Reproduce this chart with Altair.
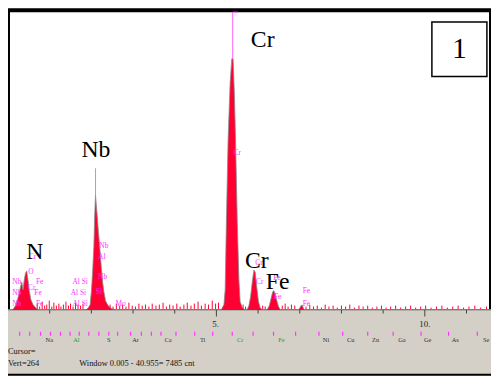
import altair as alt
import pandas as pd

# ---------------- data (keV, counts) ----------------
X_MAX = 11.588
Y_MIN, Y_MAX = -650, 3030

spec_kev = [0.00, 0.12, 0.18, 0.22, 0.26, 0.30, 0.33, 0.36, 0.39, 0.42, 0.45, 0.48, 0.51, 0.55, 0.60, 0.66, 0.72,
            1.88, 1.93, 1.97, 2.00, 2.03, 2.06, 2.08, 2.10, 2.12, 2.14, 2.17, 2.20, 2.24, 2.27, 2.30, 2.34, 2.40, 2.48, 2.55,
            5.12, 5.18, 5.21, 5.24, 5.28, 5.33, 5.37, 5.40, 5.43, 5.46, 5.50, 5.54, 5.57, 5.62, 5.68,
            5.74, 5.78, 5.82, 5.86, 5.90, 5.93, 5.97, 6.01, 6.05, 6.09,
            6.22, 6.27, 6.31, 6.35, 6.38, 6.41, 6.45, 6.49, 6.53,
            6.98, 7.03, 7.06, 7.10, 11.588]
spec_cts = [0, 0, 40, 90, 150, 230, 280, 200, 300, 370, 390, 300, 190, 100, 50, 20, 0,
            0, 20, 50, 180, 380, 640, 950, 1160, 1050, 950, 780, 640, 420, 280, 180, 90, 40, 10, 0,
            0, 50, 200, 900, 1710, 2300, 2540, 2540, 2200, 1700, 900, 300, 80, 20, 0,
            0, 40, 130, 280, 400, 380, 220, 80, 20, 0,
            0, 40, 110, 180, 190, 160, 90, 30, 0,
            0, 40, 45, 0, 0]

noise = [(0.70, 60), (0.76, 30), (0.82, 80), (0.88, 40), (0.93, 50), (0.99, 90), (1.05, 30), (1.10, 70),
         (1.16, 40), (1.22, 60), (1.27, 30), (1.33, 50), (1.39, 80), (1.45, 40), (1.50, 60), (1.56, 30),
         (1.62, 70), (1.68, 50), (1.74, 40), (1.80, 60), (2.45, 50), (2.52, 30), (2.60, 60), (2.68, 40),
         (2.75, 50), (2.83, 30), (2.90, 70), (2.98, 40), (3.06, 30), (3.14, 60), (3.22, 40), (3.30, 50),
         (3.38, 30), (3.46, 60), (3.55, 40), (3.63, 50), (3.72, 70), (3.80, 30), (3.88, 50), (3.96, 40),
         (4.05, 60), (4.13, 30), (4.22, 50), (4.30, 70), (4.39, 40), (4.47, 60), (4.56, 80), (4.64, 40),
         (4.73, 60), (4.81, 50), (4.90, 90), (4.98, 60), (5.05, 70), (5.64, 50), (5.70, 30), (6.11, 40),
         (6.17, 30), (6.58, 40), (6.65, 60), (6.72, 30), (6.80, 50), (6.88, 40), (7.15, 30), (7.24, 50),
         (7.33, 30), (7.42, 40), (7.52, 20), (7.61, 50), (7.70, 30), (7.80, 40), (7.90, 20), (8.00, 40),
         (8.10, 30), (8.20, 50), (8.31, 20), (8.42, 40), (8.52, 30), (8.63, 40), (8.74, 20), (8.85, 30),
         (8.96, 40), (9.07, 20), (9.18, 30), (9.30, 40), (9.42, 20), (9.54, 30), (9.66, 40), (9.78, 20),
         (9.90, 30), (10.02, 40), (10.15, 20), (10.28, 30), (10.41, 40), (10.54, 20), (10.67, 30),
         (10.80, 40), (10.93, 20), (11.06, 30), (11.20, 40), (11.34, 20), (11.48, 30)]

big_labels = ["N", "Nb", "Cr", "Cr", "Fe"]
big_kev = [0.64, 2.11, 6.11, 5.97, 6.47]
big_cts = [580, 1610, 2730, 490, 280]

pink_text = ["Nb", "Nb", "Nb", "Fe", "Fe", "Fe", "O", "Cr", "Cr", "Al  Si", "Al  Si", "Al  Si",
             "Nb", "Al", "Nb", "Si", "Mo", "Cr", "Cr", "Cr", "Fe", "Fe", "Fe", "Fe"]
pink_kev = [0.21, 0.21, 0.21, 0.76, 0.72, 0.76, 0.55, 0.59, 0.57, 1.73, 1.69, 1.73,
            2.30, 2.25, 2.27, 2.18, 2.70, 5.50, 6.02, 6.04, 6.45, 6.47, 7.16, 7.16]
pink_cts = [280, 170, 60, 280, 170, 60, 380, 530, 220, 280, 170, 60,
            640, 530, 330, 180, 60, 1580, 470, 280, 320, 130, 190, 60]

# pink marker lines above peaks
marker_x = [5.39, 2.10, 5.39]
marker_x2 = [5.39, 2.10, 5.52]
marker_y = [2540, 1160, 3010]
marker_y2 = [3010, 1430, 3010]

tick_kev = [1, 2, 3, 4, 5, 6, 7, 8, 9, 10, 11]
tick_len = [-40, -40, -40, -40, -70, -40, -40, -40, -40, -70, -40]
tick_labels = ["5.", "10."]
tick_label_kev = [4.98, 10.0]

elem_dash_kev = [0.28, 0.52, 0.78, 1.02, 1.26, 1.49, 1.71, 1.94, 2.18, 2.42, 2.63, 2.94, 3.20, 3.44, 3.67,
                 4.03, 4.48, 4.91, 5.38, 5.88, 6.37, 6.90, 7.46, 8.03, 8.63, 9.24, 9.91, 10.57, 11.26]
elem_names = ["Na", "Al", "S", "Ar", "Ca", "Ti", "Cr", "Fe", "Ni", "Cu", "Zn", "Ga", "Ge", "As", "Se"]
elem_kev = [0.99, 1.64, 2.42, 3.06, 3.84, 4.67, 5.57, 6.56, 7.63, 8.22, 8.82, 9.45, 10.07, 10.73, 11.47]
elem_color = ["#333333", "#22a022", "#333333", "#333333", "#333333", "#333333", "#22a022", "#22a022",
              "#333333", "#333333", "#333333", "#333333", "#333333", "#333333", "#333333"]

status_text = ["Cursor=", "Vert=264", "Window 0.005 - 40.955=   7485 cnt"]
status_kev = [0.0, 0.0, 1.71]
status_cts = [-420, -540, -540]

# ---------------- chart ----------------
xs = alt.Scale(domain=[0, X_MAX], nice=False, zero=False)
ys = alt.Scale(domain=[Y_MIN, Y_MAX], nice=False, zero=False)
SERIF = "Liberation Serif, Times New Roman, serif"


def X(f):
    return alt.X(f, type="quantitative", scale=xs, axis=None)


def Y(f):
    return alt.Y(f, type="quantitative", scale=ys, axis=None)


gray_df = pd.DataFrame({"x": [0], "x2": [X_MAX], "y": [Y_MIN], "y2": [0]})
gray = alt.Chart(gray_df).mark_rect(color="#d4d0c8").encode(
    x=X("x"), x2="x2", y=Y("y"), y2="y2")

base_df = pd.DataFrame({"x": [0], "x2": [X_MAX], "y": [0]})
baseline = alt.Chart(base_df).mark_rule(color="#505050", strokeWidth=1.2).encode(
    x=X("x"), x2="x2", y=Y("y"))

tick_df = pd.DataFrame({"x": tick_kev, "y": [0] * len(tick_kev), "y2": tick_len})
ticks = alt.Chart(tick_df).mark_rule(color="#404040", strokeWidth=1).encode(
    x=X("x"), y=Y("y"), y2="y2")

tl_df = pd.DataFrame({"x": tick_label_kev, "y": [-150] * 2, "t": tick_labels})
tick_text = alt.Chart(tl_df).mark_text(font=SERIF, fontSize=9, color="#222222", align="center",
                                       baseline="middle").encode(x=X("x"), y=Y("y"), text="t")

dash_df = pd.DataFrame({"x": elem_dash_kev, "y": [-225] * len(elem_dash_kev),
                        "y2": [-265] * len(elem_dash_kev)})
dashes = alt.Chart(dash_df).mark_rule(color="#ff33ff", strokeWidth=1.2).encode(
    x=X("x"), y=Y("y"), y2="y2")

el_df = pd.DataFrame({"x": elem_kev, "y": [-310] * len(elem_kev), "t": elem_names, "c": elem_color})
elems = alt.Chart(el_df).mark_text(font=SERIF, fontSize=6.5, align="center", baseline="middle").encode(
    x=X("x"), y=Y("y"), text="t", color=alt.Color("c:N", scale=None))

st_df = pd.DataFrame({"x": status_kev, "y": status_cts, "t": status_text})
status = alt.Chart(st_df).mark_text(font=SERIF, fontSize=8.5, color="#111111", align="left",
                                    baseline="middle").encode(x=X("x"), y=Y("y"), text="t")

nz_df = pd.DataFrame({"x": [p[0] for p in noise], "y": [p[1] for p in noise], "b": [0] * len(noise)})
noise_l = alt.Chart(nz_df).mark_rule(color="#ff0033", strokeWidth=1).encode(
    x=X("x"), y=Y("y"), y2="b")

sp_df = pd.DataFrame({"x": spec_kev, "y": spec_cts, "b": [0] * len(spec_kev)})
area = alt.Chart(sp_df).mark_area(color="#ff0033", interpolate="linear").encode(
    x=X("x"), y=Y("y"), y2="b")
outline = alt.Chart(sp_df).mark_line(color="#8a8a8a", strokeWidth=0.8, interpolate="linear").encode(
    x=X("x"), y=Y("y"))

mk_df = pd.DataFrame({"x": marker_x, "x2": marker_x2, "y": marker_y, "y2": marker_y2})
markers = alt.Chart(mk_df).mark_rule(color="#ff66ff", strokeWidth=1).encode(
    x=X("x"), x2="x2", y=Y("y"), y2="y2")

pk_df = pd.DataFrame({"x": pink_kev, "y": pink_cts, "t": pink_text})
pink = alt.Chart(pk_df).mark_text(font=SERIF, fontSize=7.5, color="#ff33ff", align="center",
                                  baseline="middle").encode(x=X("x"), y=Y("y"), text="t")

bl_df = pd.DataFrame({"x": big_kev, "y": big_cts, "t": big_labels})
big = alt.Chart(bl_df).mark_text(font=SERIF, fontSize=24, color="#000000", align="center",
                                 baseline="middle").encode(x=X("x"), y=Y("y"), text="t")

box_df = pd.DataFrame({"x": [10.17], "x2": [11.49], "y": [2360], "y2": [2910]})
box = alt.Chart(box_df).mark_rect(fill="white", stroke="black", strokeWidth=1.5).encode(
    x=X("x"), x2="x2", y=Y("y"), y2="y2")
one_df = pd.DataFrame({"x": [10.83], "y": [2640], "t": ["1"]})
one = alt.Chart(one_df).mark_text(font=SERIF, fontSize=30, color="black", align="center",
                                  baseline="middle").encode(x=X("x"), y=Y("y"), text="t")

chart = alt.layer(gray, ticks, baseline, tick_text, dashes, elems, status, noise_l, area, outline,
                  markers, pink, big, box, one).properties(
    width=489, height=368, padding=0, autosize="none", background="white"
).configure_view(stroke="black", strokeWidth=4)

chart.save("out.html", embed_options={"renderer": "svg", "actions": False})
